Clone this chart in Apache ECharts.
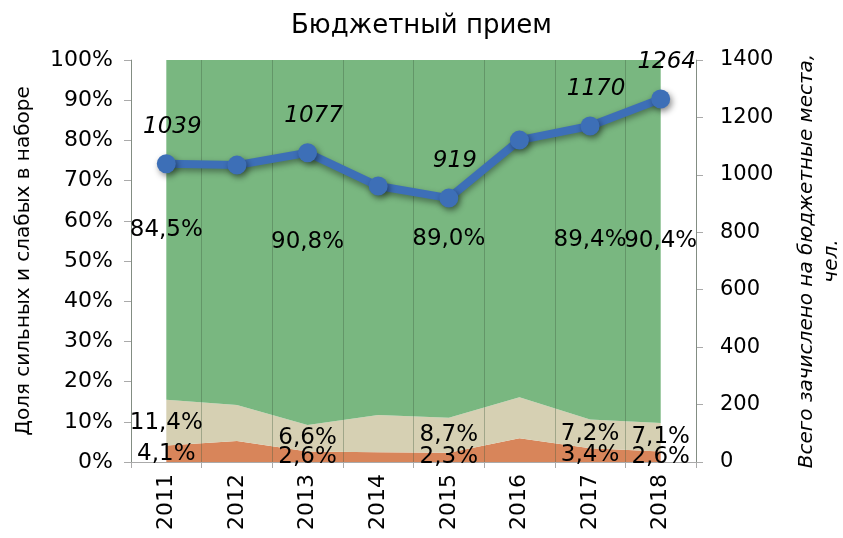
<!DOCTYPE html>
<html>
<head>
<meta charset="utf-8">
<script src="https://cdn.jsdelivr.net/npm/echarts@6/dist/echarts.min.js"></script>
<style>
  html, body { margin: 0; padding: 0; background: #fff; }
  #chart { width: 843px; height: 538px; }
</style>
</head>
<body>
<div id="chart"></div>
<script>
var years = ['2011', '2012', '2013', '2014', '2015', '2016', '2017', '2018'];
var weakShare = [4.1, 5.2, 2.6, 2.4, 2.3, 5.9, 3.4, 2.6];
var midShare = [11.4, 9.0, 6.6, 9.3, 8.7, 10.2, 7.2, 7.1];
var strongShare = [84.5, 85.8, 90.8, 88.3, 89.0, 83.9, 89.4, 90.4];
var enrolled = [1039, 1034, 1077, 961, 919, 1121, 1170, 1264];
var labelShown = [true, false, true, false, true, false, true, true];
var leftTicks = [0, 10, 20, 30, 40, 50, 60, 70, 80, 90, 100];
var rightTicks = [0, 200, 400, 600, 800, 1000, 1200, 1400];

var font = 'DejaVu Sans, sans-serif';

function pct(v) {
    return String(v.toFixed(1)).replace('.', ',') + '%';
}

// labels sit in the middle of each stacked band
var bandLabels = [];
for (var i = 0; i < years.length; i++) {
    if (!labelShown[i]) continue;
    var base = 0;
    [weakShare, midShare, strongShare].forEach(function (arr) {
        bandLabels.push({ value: [i, base + arr[i] / 2], share: arr[i] });
        base += arr[i];
    });
}

var chart = echarts.init(document.getElementById('chart'));
var option = {
    backgroundColor: '#fff',
    animation: false,
    textStyle: { fontFamily: font },
    title: {
        text: 'Бюджетный прием',
        left: 'center',
        top: 8,
        textStyle: { fontFamily: font, fontSize: 26, fontWeight: 'normal', color: '#000' }
    },
    grid: { left: 131, right: 147, top: 60, bottom: 76, outerBoundsMode: 'none' },
    xAxis: {
        type: 'category',
        data: years,
        boundaryGap: true,
        z: 3,
        axisLine: { lineStyle: { color: '#aaa', width: 1 } },
        axisTick: { show: true, length: 6, lineStyle: { color: '#aaa' } },
        splitLine: { show: true, lineStyle: { color: 'rgba(60,90,60,0.35)', width: 1 } },
        axisLabel: { rotate: 90, fontSize: 22, color: '#000', margin: 12, fontFamily: font }
    },
    yAxis: [
        {
            type: 'value',
            min: leftTicks[0],
            max: leftTicks[leftTicks.length - 1],
            interval: 10,
            name: 'Доля сильных и слабых в наборе',
            nameLocation: 'middle',
            nameGap: 97,
            nameTextStyle: { fontSize: 20, color: '#000', fontFamily: font },
            axisLine: { show: true, lineStyle: { color: '#aaa' } },
            axisTick: { show: true, length: 7, lineStyle: { color: '#aaa' } },
            splitLine: { show: false },
            axisLabel: { formatter: '{value}%', fontSize: 22, color: '#000', margin: 18, fontFamily: font }
        },
        {
            type: 'value',
            min: rightTicks[0],
            max: rightTicks[rightTicks.length - 1],
            interval: 200,
            name: 'Всего зачислено на бюджетные места,\nчел.',
            nameLocation: 'middle',
            nameGap: 98,
            nameRotate: 90,
            nameTextStyle: { fontSize: 20, color: '#000', fontStyle: 'italic', fontFamily: font, lineHeight: 25, align: 'center' },
            axisLine: { show: true, lineStyle: { color: '#aaa' } },
            axisTick: { show: true, length: 7, lineStyle: { color: '#aaa' } },
            splitLine: { show: false },
            axisLabel: {
                fontSize: 21, color: '#000', margin: 24, fontFamily: font,
                formatter: function (v) { return String(v); }
            }
        }
    ],
    series: [
        {
            name: 'weak',
            type: 'line',
            stack: 'share',
            data: weakShare,
            symbol: 'none',
            lineStyle: { width: 0 },
            areaStyle: { color: '#d8855a', opacity: 1 },
            z: 1
        },
        {
            name: 'mid',
            type: 'line',
            stack: 'share',
            data: midShare,
            symbol: 'none',
            lineStyle: { width: 0 },
            areaStyle: { color: '#d6d0b3', opacity: 1 },
            z: 1
        },
        {
            name: 'strong',
            type: 'line',
            stack: 'share',
            data: strongShare,
            symbol: 'none',
            lineStyle: { width: 0 },
            areaStyle: { color: '#79b780', opacity: 1 },
            z: 1
        },
        {
            name: 'bandLabels',
            type: 'scatter',
            data: bandLabels,
            symbolSize: 0,
            z: 5,
            silent: true,
            itemStyle: { opacity: 1 },
            label: {
                show: true,
                position: 'inside',
                fontSize: 23,
                color: '#000',
                fontFamily: font,
                formatter: function (p) { return pct(p.data.share); }
            }
        },
        {
            name: 'enrolled',
            type: 'line',
            yAxisIndex: 1,
            data: enrolled.map(function (v, i) {
                return { value: v, label: { show: labelShown[i] } };
            }),
            symbol: 'circle',
            symbolSize: 19,
            z: 6,
            itemStyle: {
                color: '#3d6fb7',
                shadowColor: 'rgba(0,0,0,0.45)',
                shadowBlur: 6,
                shadowOffsetX: 2,
                shadowOffsetY: 3
            },
            lineStyle: {
                color: '#3d6fb7',
                width: 8,
                shadowColor: 'rgba(0,0,0,0.4)',
                shadowBlur: 6,
                shadowOffsetY: 3
            },
            label: {
                position: 'top',
                distance: 16,
                offset: [6, 0],
                fontSize: 23,
                fontStyle: 'italic',
                color: '#000',
                fontFamily: font
            }
        }
    ]
};
chart.setOption(option);
</script>
</body>
</html>
